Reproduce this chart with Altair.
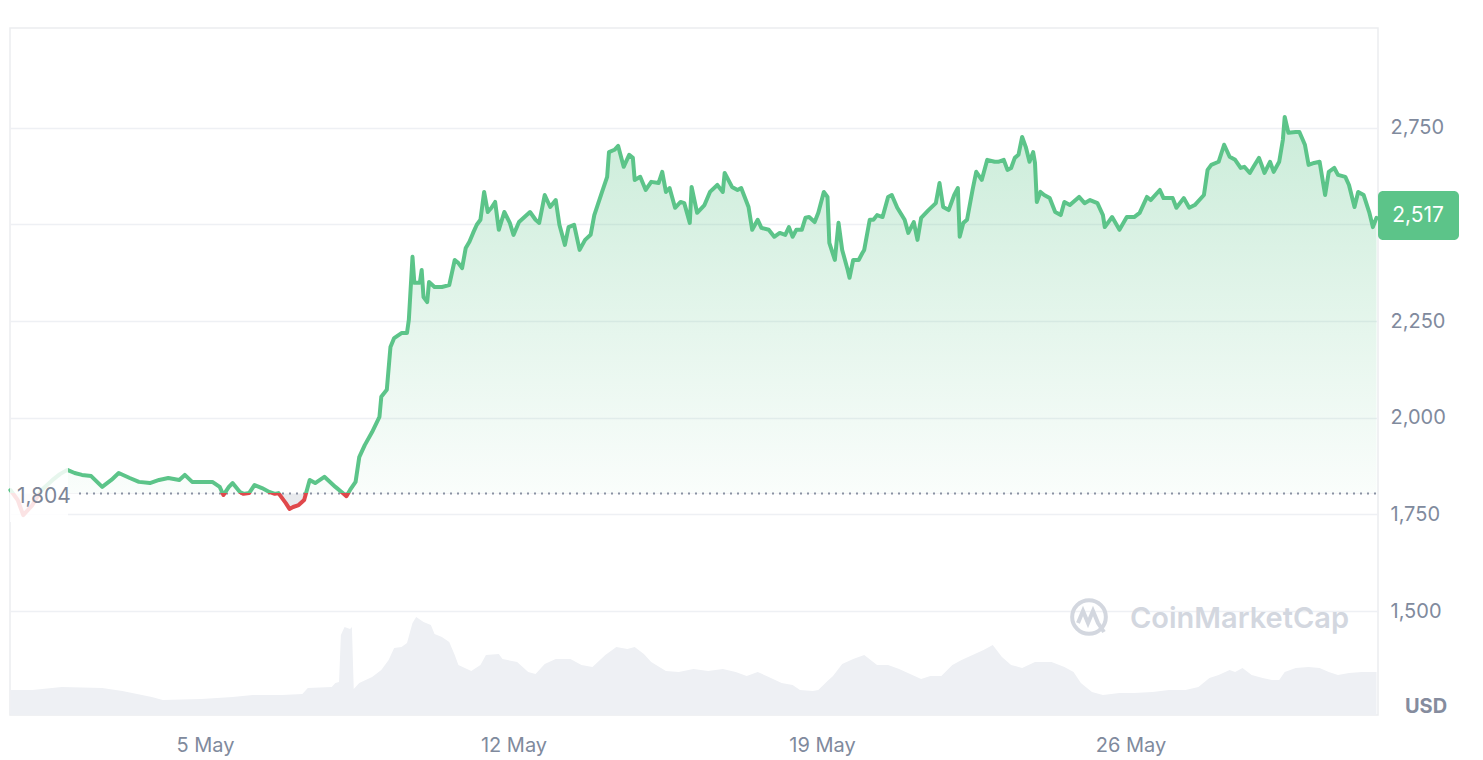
import altair as alt
import pandas as pd

# ---------------- data (hours counted from 2025-05-05 00:00 UTC) ----------------
price_hours = [
    -106, -102, -99, -94, -89, -83, -79, -75, -71, -67,
    -62, -56, -51, -47, -41, -36, -30, -25, -20, -14,
    -11, -7, -2, 4, 8, 10, 13, 15, 19, 21,
    24, 27, 31, 35, 38, 40, 44, 46, 48, 51,
    54, 57, 60, 65, 71, 75, 77, 79, 82, 84,
    87, 91, 95, 96, 99, 101, 103, 107, 110, 111,
    113, 114, 117, 118, 119, 121, 122, 125, 129, 133,
    136, 138, 140, 142, 144, 146, 148, 150, 152, 154,
    156, 158, 160, 163, 166, 168, 171, 174, 177, 180,
    182, 185, 188, 191, 193, 196, 198, 201, 204, 207,
    210, 212, 216, 219, 220, 223, 225, 228, 231, 233,
    234, 237, 240, 243, 247, 249, 251, 253, 256, 259,
    261, 264, 265, 268, 272, 275, 279, 282, 283, 287,
    290, 292, 296, 298, 301, 303, 307, 310, 313, 316,
    318, 320, 322, 325, 327, 329, 332, 334, 337, 339,
    340, 343, 345, 347, 350, 351, 353, 356, 358, 359,
    362, 364, 366, 369, 372, 374, 377, 381, 383, 386,
    388, 390, 394, 398, 400, 402, 405, 408, 410, 411,
    413, 415, 418, 420, 423, 426, 430, 432, 435, 437,
    439, 441, 443, 445, 447, 449, 451, 452, 453, 455,
    457, 460, 463, 466, 468, 471, 476, 479, 482, 486,
    489, 490, 494, 498, 502, 506, 509, 513, 515, 520,
    522, 527, 529, 533, 536, 539, 544, 546, 548, 552,
    555, 558, 561, 564, 566, 569, 571, 574, 577, 580,
    582, 585, 587, 588, 590, 594, 596, 599, 601, 604,
    607, 610, 612, 615, 617, 621, 623, 626, 628, 631,
    634, 636, 638,
]
price_usd = [
    1813, 1787, 1748, 1774, 1813, 1839, 1854, 1865, 1857, 1852,
    1849, 1821, 1839, 1857, 1844, 1834, 1831, 1839, 1844, 1839,
    1852, 1834, 1834, 1834, 1821, 1800, 1821, 1831, 1808, 1803,
    1805, 1826, 1818, 1808, 1803, 1805, 1779, 1764, 1769, 1774,
    1787, 1839, 1831, 1847, 1821, 1805, 1797, 1813, 1834, 1898,
    1929, 1963, 2002, 2054, 2072, 2183, 2206, 2219, 2219, 2253,
    2416, 2349, 2349, 2382, 2312, 2299, 2351, 2338, 2338, 2343,
    2408, 2400, 2387, 2439, 2455, 2478, 2499, 2512, 2584, 2532,
    2543, 2558, 2486, 2532, 2504, 2473, 2506, 2519, 2532, 2512,
    2504, 2576, 2545, 2563, 2499, 2447, 2493, 2499, 2434, 2460,
    2473, 2524, 2581, 2623, 2687, 2693, 2703, 2649, 2680, 2672,
    2615, 2623, 2589, 2610, 2607, 2636, 2584, 2594, 2543, 2558,
    2555, 2504, 2597, 2530, 2550, 2584, 2602, 2584, 2633, 2597,
    2589, 2594, 2545, 2486, 2512, 2491, 2486, 2468, 2478, 2473,
    2493, 2468, 2486, 2486, 2517, 2519, 2506, 2530, 2584, 2571,
    2452, 2408, 2504, 2434, 2382, 2362, 2408, 2408, 2426, 2434,
    2512, 2512, 2524, 2519, 2571, 2576, 2543, 2512, 2478, 2506,
    2460, 2517, 2537, 2555, 2607, 2545, 2537, 2576, 2594, 2468,
    2504, 2512, 2589, 2636, 2615, 2667, 2662, 2662, 2667, 2641,
    2646, 2672, 2680, 2726, 2700, 2662, 2687, 2659, 2558, 2584,
    2576, 2568, 2532, 2524, 2558, 2550, 2571, 2555, 2563, 2555,
    2524, 2493, 2519, 2486, 2519, 2519, 2530, 2571, 2563, 2589,
    2568, 2568, 2543, 2568, 2543, 2550, 2576, 2641, 2654, 2662,
    2706, 2675, 2667, 2646, 2649, 2633, 2649, 2672, 2633, 2662,
    2636, 2662, 2719, 2778, 2737, 2739, 2739, 2706, 2654, 2659,
    2662, 2576, 2636, 2646, 2628, 2623, 2602, 2545, 2584, 2576,
    2532, 2493, 2517,
]
vol_hours = [
    -106, -94, -78, -56, -45, -29, -23, -2, 15, 26,
    42, 53, 56, 69, 71, 73, 74, 76, 79, 80,
    81, 84, 91, 96, 100, 103, 107, 110, 113, 115,
    119, 123, 125, 129, 133, 136, 138, 145, 150, 153,
    160, 162, 170, 176, 180, 185, 191, 199, 205, 211,
    218, 224, 230, 234, 239, 243, 251, 258, 266, 274,
    282, 289, 295, 301, 307, 314, 320, 324, 331, 334,
    339, 342, 347, 353, 359, 366, 372, 378, 384, 390,
    395, 401, 407, 412, 418, 424, 429, 434, 439, 445,
    452, 461, 468, 473, 477, 483, 489, 498, 506, 516,
    525, 534, 541, 547, 552, 558, 561, 565, 570, 576,
    581, 585, 588, 594, 601, 607, 612, 617, 623, 630,
    638,
]
vol_busd = [
    10.0, 10.0, 11.2, 10.8, 9.6, 7.2, 6.0, 6.4, 7.2, 8.0,
    8.0, 8.4, 10.8, 11.2, 12.8, 13.2, 32.0, 35.2, 34.4, 35.2,
    10.4, 12.8, 15.2, 18.0, 22.0, 26.8, 27.2, 28.8, 36.8, 39.2,
    37.2, 36.0, 32.4, 31.2, 29.2, 24.0, 20.0, 17.6, 20.0, 24.0,
    24.4, 22.4, 21.2, 17.2, 16.4, 20.4, 22.4, 22.4, 20.0, 19.2,
    24.0, 27.2, 26.4, 27.2, 24.4, 21.2, 17.6, 17.2, 18.4, 17.6,
    18.4, 17.2, 15.6, 17.2, 15.2, 12.8, 12.0, 10.0, 9.6, 10.0,
    13.6, 15.6, 20.4, 22.4, 24.0, 20.0, 20.0, 18.4, 16.4, 14.4,
    15.6, 15.6, 20.0, 22.0, 24.0, 26.0, 28.0, 23.2, 20.0, 18.8,
    21.2, 21.2, 19.2, 17.2, 12.8, 9.2, 8.0, 8.8, 8.8, 9.2,
    10.0, 10.0, 11.2, 14.8, 16.0, 18.0, 17.2, 18.8, 16.0, 14.8,
    14.0, 14.0, 17.2, 18.8, 19.2, 18.8, 17.2, 16.0, 16.8, 17.2,
    17.2,
]
BASE_PRICE = 1804
LAST_PRICE = 2517
y_ticks = [1500, 1750, 2000, 2250, 2500, 2750]
x_tick_days = [5, 12, 19, 26]

# ---------------- tables ----------------
t0 = pd.Timestamp("2025-05-05")


def stamp(hours):
    return [(t0 + pd.Timedelta(hours=h)).strftime("%Y-%m-%dT%H:%M:%SZ") for h in hours]


price_df = pd.DataFrame({"t": stamp(price_hours), "price": price_usd})
vol_df = pd.DataFrame({"t": stamp(vol_hours), "vol": vol_busd})
base_df = pd.DataFrame({"price": [BASE_PRICE], "label": ["1,804"]})
last_df = pd.DataFrame({"price": [LAST_PRICE]})
one = pd.DataFrame({"a": [0]})

W, H = 1368, 687
GREEN = "#5CC489"
RED = "#E0484B"
GREY = "#808A9D"
FONT = "Inter"

x_scale = alt.Scale(
    type="utc",
    domain=[
        alt.DateTime(year=2025, month=4, date=30, hours=13, minutes=48, utc=True),
        alt.DateTime(year=2025, month=5, date=31, hours=14, minutes=48, utc=True),
    ],
)
y_scale = alt.Scale(domain=[1231, 3008], nice=False, zero=False)

x_axis = alt.Axis(
    values=[alt.DateTime(year=2025, month=5, date=d, utc=True) for d in x_tick_days],
    labelExpr="utcFormat(datum.value, '%-d %b')",
    grid=False, ticks=False, domain=False, labelPadding=20,
    labelFontSize=20, labelColor=GREY, labelFont=FONT, title=None,
)
y_axis = alt.Axis(
    orient="right", values=y_ticks,
    labelExpr="datum.value == 2500 ? '' : format(datum.value, ',')",
    grid=True, gridColor="#EEF0F4", gridWidth=1.5,
    ticks=False, domain=False, labelPadding=12,
    labelFontSize=20, labelColor=GREY, labelFont=FONT, title=None,
)
X = alt.X("t:T", scale=x_scale, axis=x_axis, title=None)
Y = alt.Y("price:Q", scale=y_scale, axis=y_axis, title=None)

pmax, pmin = max(price_usd), min(price_usd)
off = (pmax - BASE_PRICE) / (pmax - pmin)

line_grad = alt.Gradient(
    gradient="linear", x1=0, y1=0, x2=0, y2=1,
    stops=[
        alt.GradientStop(offset=0, color=GREEN),
        alt.GradientStop(offset=off, color=GREEN),
        alt.GradientStop(offset=off, color=RED),
        alt.GradientStop(offset=1, color=RED),
    ],
)
fill_grad = alt.Gradient(
    gradient="linear", x1=0, y1=0, x2=0, y2=1,
    stops=[
        alt.GradientStop(offset=0, color="rgba(92,196,137,0.32)"),
        alt.GradientStop(offset=off, color="rgba(92,196,137,0.03)"),
        alt.GradientStop(offset=off, color="rgba(190,195,205,0.35)"),
        alt.GradientStop(offset=1, color="rgba(190,195,205,0.35)"),
    ],
)

volume = alt.Chart(vol_df).mark_area(color="#EEF0F4").encode(
    x=X,
    y=alt.Y("vol:Q", scale=alt.Scale(domain=[0, 274.8], nice=False), axis=None),
)

area = alt.Chart(price_df).mark_area(fill=fill_grad, line=False).encode(
    x=X, y=Y, y2=alt.datum(BASE_PRICE),
)

line = alt.Chart(price_df).mark_line(
    stroke=line_grad, strokeWidth=4, strokeJoin="round", strokeCap="round"
).encode(x=X, y=Y)

base_rule = alt.Chart(base_df).mark_rule(
    strokeDash=[2, 5], color="#8A92A3", strokeWidth=2
).encode(y=Y, x=alt.value(69), x2=alt.value(W))

label_box = alt.Chart(one).mark_rect(color="white", opacity=0.85).encode(
    x=alt.value(0), x2=alt.value(58), y=alt.value(432), y2=alt.value(494)
)
label_text = alt.Chart(base_df).mark_text(
    align="left", baseline="middle", fontSize=21, color="#7D8596", font=FONT, dy=4
).encode(x=alt.value(7), y=Y, text="label:N")

badge = alt.Chart(one).mark_rect(color=GREEN, cornerRadius=5).encode(
    x=alt.value(W), x2=alt.value(W + 81), y=alt.value(163), y2=alt.value(212)
)
badge_text = alt.Chart(last_df).mark_text(
    align="center", baseline="middle", fontSize=21, color="white", font=FONT, dy=-2
).encode(
    x=alt.value(W + 40), y=Y,
    text=alt.Text("price:Q", format=","),
)

wm_ring = alt.Chart(one).mark_point(
    shape="circle", size=1134, filled=False, strokeWidth=4, color="#D3D7DF", opacity=1
).encode(x=alt.value(1079), y=alt.value(589))
wm_m = alt.Chart(one).mark_point(
    shape="M -0.55 0.3 L -0.3 -0.3 L -0.05 0.3 L 0.2 -0.3 L 0.45 0.3 L 0.75 0.75",
    size=1600, filled=False, strokeWidth=4, color="#D3D7DF", opacity=1,
).encode(x=alt.value(1079), y=alt.value(589))
wm_text = alt.Chart(pd.DataFrame({"s": ["CoinMarketCap"]})).mark_text(
    align="left", baseline="middle", fontSize=29, fontWeight=600, color="#D3D7DF", font=FONT
).encode(x=alt.value(1120), y=alt.value(591), text="s:N")

usd = alt.Chart(pd.DataFrame({"s": ["USD"]})).mark_text(
    align="center", baseline="middle", fontSize=20, fontWeight="bold", color="#858C9E", font=FONT
).encode(x=alt.value(1416), y=alt.value(679), text="s:N")

price_layers = alt.layer(
    area, base_rule, line, label_box, label_text, badge, badge_text,
    wm_ring, wm_m, wm_text, usd,
)

chart = (
    alt.layer(volume, price_layers)
    .resolve_scale(y="independent")
    .properties(
        width=W, height=H,
        padding={"left": 0, "top": 20, "right": 10, "bottom": 5},
        background="white",
    )
    .configure_view(stroke="#EBEDF0", strokeWidth=1.5)
)

chart.save("out.html", embed_options={"renderer": "svg", "actions": False})
